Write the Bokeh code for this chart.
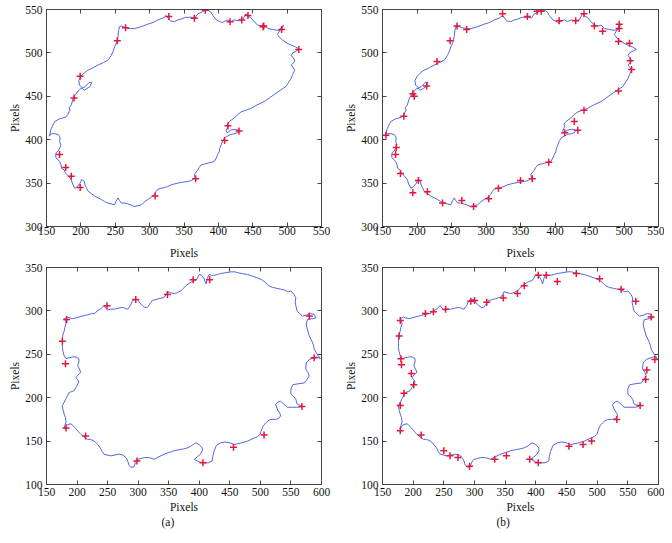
from bokeh.plotting import figure
from bokeh.layouts import column, row
from bokeh.models import LinearAxis, FixedTicker, Range1d, Title
from bokeh.embed import file_html
from bokeh.resources import INLINE

# ---------------- data ----------------
top_xticks = [150, 200, 250, 300, 350, 400, 450, 500, 550]
top_yticks = [300, 350, 400, 450, 500, 550]
bot_xticks = [150, 200, 250, 300, 350, 400, 450, 500, 550, 600]
bot_yticks = [100, 150, 200, 250, 300, 350]

# top contour (same in (a) and (b))
top_cx = [154,157,162,169,178,181,184,183,186,189,192,198,206,212,216,213,205,198,197,200,205,210,218,225,233,240,244,247,249,252,254,255,256,259,265,272,278,287,297,305,312,319,324,327,330,336,341,346,352,356,362,366,370,376,380,385,389,392,397,402,406,410,414,418,423,429,435,440,444,447,451,457,463,467,472,479,486,492,495,492,488,486,490,493,500,506,512,518,515,508,506,510,511,506,509,511,508,506,503,498,490,481,474,467,456,447,440,433,428,423,416,413,414,411,413,418,424,430,428,424,418,413,409,406,404,402,401,399,397,394,390,385,380,375,372,370,367,365,366,361,356,348,341,336,331,326,322,317,312,309,307,303,297,292,288,283,278,272,268,263,259,256,254,251,249,244,239,234,230,225,220,215,210,208,206,205,201,199,195,191,188,186,181,177,176,172,171,169,164,163,164,167,169,171,169,170,167,162,157,154]
top_cy = [404,413,421,424,426,429,434,437,440,448,452,458,461,466,466,461,457,463,468,473,477,480,483,486,489,492,497,502,507,512,519,526,530,531,529,528,528,530,533,535,538,540,543,540,537,536,538,539,541,541,541,540,545,547,549,549,547,543,538,536,535,537,538,536,538,537,538,545,542,541,537,532,531,532,528,527,526,527,532,530,524,521,517,515,511,509,507,504,503,500,497,493,490,486,483,480,475,471,467,461,457,452,448,444,440,436,434,432,429,425,421,418,415,410,408,411,412,411,408,407,406,404,402,398,394,390,386,383,379,375,374,373,372,371,368,365,362,360,356,353,352,351,350,349,348,346,345,344,343,340,337,334,331,328,325,324,323,325,326,327,327,330,333,329,325,326,327,329,331,333,335,338,341,345,348,352,354,350,346,344,349,354,359,362,365,367,371,375,379,382,385,387,390,394,398,402,406,407,407,404]

# markers, top (a)
ta_x = [169,178,186,199,190,199,253,265,328,365,381,417,434,443,465,466,492,517,414,430,409,367,308]
ta_y = [383,368,358,345,448,473,514,529,542,540,549,536,538,543,530,531,527,504,416,410,399,355,335]
# markers, top (b)
tb_x = [155,170,169,176,202,194,215,237,265,282,304,318,350,367,391,414,433,428,442,492,511,509,508,492,493,493,469,457,442,430,406,380,374,360,324,272,258,248,229,214,194,196,181]
tb_y = [405,391,383,361,353,339,340,327,330,323,332,344,353,355,374,408,411,421,434,456,481,491,511,513,528,533,525,531,545,537,537,548,548,542,545,527,531,514,490,462,453,450,427]

# bottom contour (same in (a) and (b))
bot_cx = [179,184,188,193,198,203,209,214,220,225,229,233,238,244,247,250,255,261,267,274,
          279,283,287,291,295,299,303,307,311,315,319,323,329,334,339,343,346,348,353,359,
          364,370,374,378,382,386,390,394,397,400,404,408,410,411,413,416,420,424,430,435,
          443,452,458,463,470,479,487,495,502,506,511,514,520,527,533,540,545,
          550,555,558,557,558,560,564,569,575,582,588,591,585,577,575,576,578,580,585,587,
          588,593,598,
          592,588,580,575,574,578,580,576,572,562,553,550,550,555,558,560,565,568,562,552,
          544,538,533,529,525,527,529,532,533,530,525,517,512,509,505,503,501,500,495,488,
          479,470,463,457,450,442,435,428,424,422,421,415,408,400,392,397,402,405,405,400,
          394,390,386,380,374,
          367,359,351,343,334,326,318,310,305,299,295,293,288,285,283,280,275,269,262,255,
          249,244,241,239,234,228,222,217,211,206,203,201,196,190,185,182,179,180,182,181,
          179,177,176,179,182,185,187,191,195,199,203,201,198,201,206,204,201,203,203,198,
          193,187,182,180,179,177,176,176,176,177,179,180,182,181]
bot_cy = [291,293,292,291,292,293,294,295,296,297,297,300,302,306,303,301,302,302,303,304,
          303,302,306,312,313,313,309,306,304,304,308,312,313,314,315,316,319,322,321,320,
          321,323,326,329,331,333,334,335,338,342,341,337,333,331,337,342,341,341,342,343,
          344,345,345,344,343,342,340,338,336,334,331,329,327,326,325,324,322,
          323,319,315,310,306,300,297,294,295,297,296,292,291,290,285,281,276,271,264,260,
          256,250,245,
          247,246,244,240,233,229,225,221,217,216,215,210,204,201,198,193,191,190,189,189,
          189,193,196,195,192,188,185,182,179,176,175,175,173,171,168,165,161,158,155,153,
          150,148,147,146,148,149,148,145,138,132,127,125,125,126,129,132,135,139,142,146,
          148,146,144,142,141,
          140,139,137,135,132,129,131,131,130,129,125,120,120,122,127,131,134,135,134,133,
          134,135,138,141,146,150,152,152,155,158,160,162,166,170,169,168,164,168,172,177,
          181,186,191,195,199,203,206,207,208,213,218,221,223,226,229,233,237,241,245,247,
          247,246,245,247,248,253,258,263,268,273,277,281,285,288]

# markers, bottom (a)
ba_x = [183,176,181,182,214,249,296,348,390,417,580,588,568,506,456,406,298]
ba_y = [290,265,239,165,156,306,313,319,336,336,294,246,190,157,143,125,127]
# markers, bottom (b)
bb_x = [179,177,180,181,197,201,185,179,179,213,250,260,273,292,333,352,220,233,253,294,300,320,347,370,381,404,417,435,466,504,539,563,588,594,581,579,570,532,491,477,454,404,390]
bb_y = [289,271,245,238,228,215,205,191,162,157,139,133,131,121,129,133,297,299,302,311,312,310,315,320,329,341,341,334,343,337,325,311,293,244,232,221,191,175,150,146,144,125,129]

captions = ["(a)", "(b)"]

# ---------------- styling ----------------
FONT = "Liberation Serif"
FS = "11.5px"
LINE_C = "#5465e3"
MARK_C = "#e5173b"
FRAME_C = "#444444"


def style_axis(ax, label_standoff, axis_label, axis_label_standoff):
    ax.major_tick_in = 4
    ax.major_tick_out = 0
    ax.minor_tick_line_color = None
    ax.major_tick_line_color = FRAME_C
    ax.axis_line_color = FRAME_C
    ax.major_label_text_font = FONT
    ax.major_label_text_font_size = FS
    ax.major_label_text_color = "#111111"
    ax.major_label_standoff = label_standoff
    ax.axis_label = axis_label
    ax.axis_label_text_font = FONT
    ax.axis_label_text_font_size = FS
    ax.axis_label_text_font_style = "normal"
    ax.axis_label_text_color = "#111111"
    ax.axis_label_standoff = axis_label_standoff


def blank_axis(ticks):
    ax = LinearAxis(ticker=FixedTicker(ticks=ticks))
    ax.major_tick_in = 4
    ax.major_tick_out = 0
    ax.minor_tick_line_color = None
    ax.major_tick_line_color = FRAME_C
    ax.axis_line_color = FRAME_C
    ax.major_label_text_font_size = "0px"
    ax.major_label_text_color = None
    ax.major_label_standoff = 0
    return ax


def panel(cx, cy, mx, my, xr, yr, xt, yt, fw, fh, mbl, mbr, mbt, mbb,
          xstand, xlabstand, caption=None, cap_offset=0):
    p = figure(frame_width=fw, frame_height=fh, x_range=Range1d(*xr), y_range=Range1d(*yr),
               output_backend="svg", toolbar_location=None,
               min_border_left=mbl, min_border_right=mbr,
               min_border_top=mbt, min_border_bottom=mbb)
    p.grid.visible = False
    p.outline_line_color = FRAME_C
    p.outline_line_width = 1
    p.background_fill_color = "white"
    p.border_fill_color = "white"
    p.line(list(cx) + [cx[0]], list(cy) + [cy[0]], line_color=LINE_C, line_width=1)
    p.scatter(mx, my, marker="cross", size=7, line_color=MARK_C, line_width=1.5)
    p.xaxis.ticker = FixedTicker(ticks=xt)
    p.yaxis.ticker = FixedTicker(ticks=yt)
    style_axis(p.xaxis[0], xstand, "Pixels", xlabstand)
    style_axis(p.yaxis[0], 4, "Pixels", 1)
    p.add_layout(blank_axis(xt), "above")
    p.add_layout(blank_axis(yt), "right")
    if caption is not None:
        p.add_layout(Title(text=caption, align="left", offset=cap_offset,
                           vertical_align="top", standoff=0,
                           text_font=FONT, text_font_size=FS, text_font_style="normal",
                           text_color="#111111"), "below")
    return p


p1 = panel(top_cx, top_cy, ta_x, ta_y, (150, 550), (300, 550), top_xticks, top_yticks,
           275, 217, 46, 15, 9, 35, 0, 9)
p2 = panel(top_cx, top_cy, tb_x, tb_y, (150, 550), (300, 550), top_xticks, top_yticks,
           276, 217, 46, 6, 9, 35, 0, 9)
p3 = panel(bot_cx, bot_cy, ba_x, ba_y, (150, 600), (100, 350), bot_xticks, bot_yticks,
           275, 217, 46, 15, 6, 43, 3, 2, captions[0], 115)
p4 = panel(bot_cx, bot_cy, bb_x, bb_y, (150, 600), (100, 350), bot_xticks, bot_yticks,
           276, 217, 46, 6, 6, 43, 3, 2, captions[1], 114)

layout = column(row(p1, p2), row(p3, p4))
open("out.html", "w").write(file_html(layout, INLINE))
